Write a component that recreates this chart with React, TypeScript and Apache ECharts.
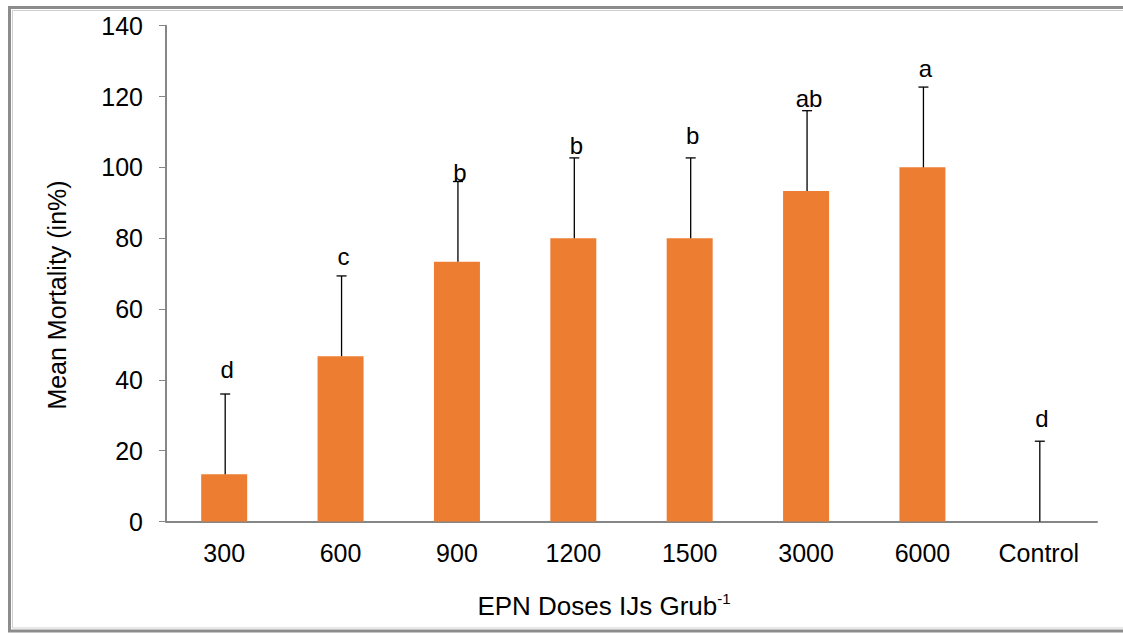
import React, { useEffect, useRef } from "react";
import * as echarts from "echarts";

const categories = ["300", "600", "900", "1200", "1500", "3000", "6000", "Control"];
const meanMortality = [13.33, 46.67, 73.33, 80, 80, 93.33, 100, 0];
const errorValues = [22.67, 22.67, 22.67, 22.67, 22.67, 22.67, 22.67, 22.67];
const groupLetters = ["d", "c", "b", "b", "b", "ab", "a", "d"];
const letterValues = [42.8, 74.7, 98.6, 106.3, 109.1, 119.5, 128, 29.2];
const yTicks = { min: 0, max: 140, interval: 20 };

const FONT = "'Liberation Sans', Arial, sans-serif";

export default function App() {
  const ref = useRef<HTMLDivElement>(null);
  useEffect(() => {
    if (!ref.current) return;
    const chart = echarts.init(ref.current, null, { renderer: "svg" });
    const errData = categories.map((_, i) => [i, meanMortality[i], errorValues[i], letterValues[i]]);
    chart.setOption({
      animation: false,
      backgroundColor: "#ffffff",
      grid: { left: 166, right: 26, top: 25.7, bottom: 111.5 },
      xAxis: {
        type: "category",
        data: categories,
        axisLine: { lineStyle: { color: "#868686", width: 2 } },
        axisTick: { show: false },
        axisLabel: { color: "#000", fontFamily: FONT, fontSize: 25, margin: 19 },
      },
      yAxis: {
        type: "value",
        min: yTicks.min,
        max: yTicks.max,
        interval: yTicks.interval,
        splitLine: { show: false },
        axisLine: { show: true, lineStyle: { color: "#868686", width: 2 } },
        axisTick: { show: true, length: 7, lineStyle: { color: "#868686", width: 1 } },
        axisLabel: { color: "#000", fontFamily: FONT, fontSize: 25, margin: 23 },
      },
      series: [
        {
          type: "bar",
          data: meanMortality,
          barWidth: 46,
          itemStyle: { color: "#ED7D31" },
        },
        {
          type: "custom",
          data: errData,
          z: 5,
          renderItem: (params: any, api: any) => {
            const idx = api.value(0);
            const mean = api.value(1);
            const err = api.value(2);
            const lv = api.value(3);
            const letter = groupLetters[params.dataIndex];
            const base = api.coord([idx, mean]);
            const top = api.coord([idx, mean + err]);
            const lp = api.coord([idx, lv]);
            const cap = 5;
            return {
              type: "group",
              children: [
                {
                  type: "line",
                  shape: { x1: top[0] + 1, y1: base[1], x2: top[0] + 1, y2: top[1] },
                  style: { stroke: "#000", lineWidth: 1.3 },
                },
                {
                  type: "line",
                  shape: { x1: top[0] + 1 - cap, y1: top[1], x2: top[0] + 1 + cap, y2: top[1] },
                  style: { stroke: "#000", lineWidth: 1.3 },
                },
                {
                  type: "text",
                  x: lp[0] + 3,
                  y: lp[1],
                  style: {
                    text: letter,
                    fontFamily: FONT,
                    fontSize: 24,
                    fill: "#000",
                    align: "center",
                    verticalAlign: "middle",
                  },
                },
              ],
            };
          },
        },
      ],
      graphic: [
        {
          type: "rect",
          shape: { x: 9.5, y: 7.5, width: 1200, height: 623.5 },
          style: { fill: "none", stroke: "#8c8c8c", lineWidth: 3 },
          silent: true,
        },
        {
          type: "rect",
          shape: { x: 12.5, y: 10.5, width: 1200, height: 617.5 },
          style: { fill: "none", stroke: "#cfcfcf", lineWidth: 1 },
          silent: true,
        },
        {
          type: "text",
          x: 57,
          y: 295,
          rotation: Math.PI / 2,
          style: {
            text: "Mean Mortality (in%)",
            fontFamily: FONT,
            fontSize: 25,
            fill: "#000",
            align: "center",
            verticalAlign: "middle",
          },
        },
        {
          type: "text",
          x: 604,
          y: 605,
          style: {
            text: "{m|EPN Doses IJs Grub}{s|-1}",
            align: "center",
            verticalAlign: "middle",
            rich: {
              m: { fontFamily: FONT, fontSize: 26, fill: "#000", lineHeight: 28, verticalAlign: "bottom" },
              s: { fontFamily: FONT, fontSize: 15, fill: "#000", lineHeight: 28, verticalAlign: "top", padding: [0, 0, 10, 0] },
            },
          },
        },
      ],
    });
    return () => chart.dispose();
  }, []);
  return (
    <div
      ref={ref}
      style={{ position: "fixed", left: 0, top: 0, width: 1123, height: 633, background: "#fff" }}
    />
  );
}
